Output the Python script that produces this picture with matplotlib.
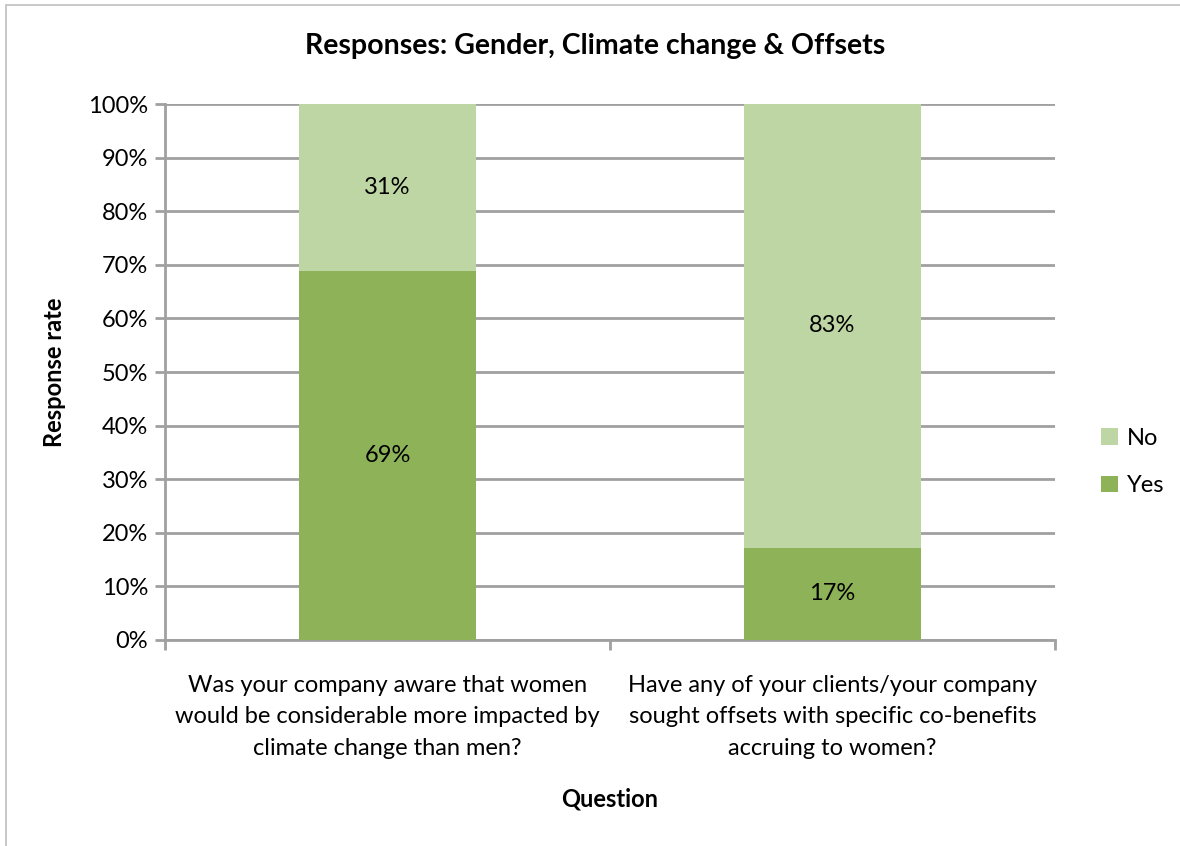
import matplotlib
matplotlib.use("Agg")
import matplotlib.pyplot as plt
from matplotlib.patches import Rectangle
import numpy as np

plt.rcParams['font.family'] = ['Lato', 'DejaVu Sans']

categories = ["Was your company aware that women\nwould be considerable more impacted by\nclimate change than men?",
              "Have any of your clients/your company\nsought offsets with specific co-benefits\naccruing to women?"]
yes_vals = [68.8, 17.2]
no_vals = [31.2, 82.8]
yes_labels = ["69%", "17%"]
no_labels = ["31%", "83%"]
series_names = ["Yes", "No"]
yticks = list(range(0, 101, 10))

c_yes = "#8DB257"
c_no = "#BED6A3"
grid_c = "#A0A0A0"
FS = 17

fig = plt.figure(figsize=(11.8, 8.46), dpi=100)
ax = fig.add_axes([165/1180, 1-640/846, 890/1180, 536/846])

x = np.arange(len(categories))
w = 0.396
b1 = ax.bar(x, yes_vals, w, color=c_yes, label=series_names[0], zorder=3)
b2 = ax.bar(x, no_vals, w, bottom=yes_vals, color=c_no, label=series_names[1], zorder=3)

for i in range(len(x)):
    ax.text(x[i], yes_vals[i]/2, yes_labels[i], ha='center', va='center', fontsize=FS, zorder=4)
    ax.text(x[i], yes_vals[i] + no_vals[i]/2, no_labels[i], ha='center', va='center', fontsize=FS, zorder=4)

ax.set_xlim(-0.5, 1.5)
ax.set_ylim(0, 100)
ax.set_yticks(yticks)
ax.set_yticklabels([f"{t}%" for t in yticks], fontsize=FS)
ax.yaxis.grid(True, color=grid_c, linewidth=2, zorder=0)
ax.set_axisbelow(True)

ax.set_xticks([-0.5, 0.5, 1.5])
ax.set_xticklabels([])
ax.set_xticks(x, minor=True)
ax.set_xticklabels(categories, minor=True, fontsize=FS, linespacing=1.62)
ax.tick_params(axis='x', which='minor', length=0, pad=25)
ax.tick_params(axis='x', which='major', length=7, width=2, color=grid_c)
ax.tick_params(axis='y', length=7, width=2, color=grid_c, pad=5)

for s in ['top', 'right']:
    ax.spines[s].set_visible(False)
for s in ['left', 'bottom']:
    ax.spines[s].set_color(grid_c)
    ax.spines[s].set_linewidth(2)

ax.set_ylabel("Response rate", fontsize=FS, fontweight='bold', labelpad=16)
ax.set_xlabel("Question", fontsize=FS, fontweight='bold', labelpad=21)
fig.text(595/1180, 1-46/846, "Responses: Gender, Climate change & Offsets", ha='center', va='center',
         fontsize=20.5, fontweight='bold')

handles = [b2, b1]
leg = fig.legend(handles, ["No", "Yes"], loc='center left', bbox_to_anchor=(1080/1180, 1-462/846),
                 frameon=False, fontsize=FS, handlelength=0.7, handleheight=0.7, handletextpad=0.4,
                 labelspacing=1.12)

fig.patches.append(Rectangle((6/1180, -0.01), 1.2, 1-5/846+0.01, transform=fig.transFigure,
                             fill=False, edgecolor="#BFBFBF", linewidth=1.2))

fig.savefig("out.png", dpi=100, facecolor='white')
